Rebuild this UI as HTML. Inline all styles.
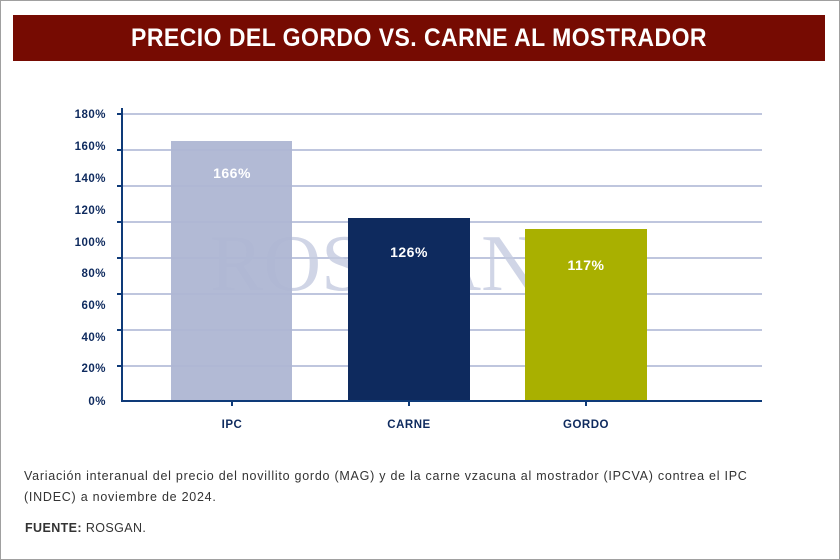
<!DOCTYPE html>
<html><head><meta charset="utf-8"><style>
body{margin:0;width:840px;height:560px;overflow:hidden;background:#fff;font-family:"Liberation Sans",sans-serif;}
.frame{position:absolute;left:0;top:0;width:838px;height:558px;border:1px solid #a0a0a0;}
.title{position:absolute;left:13px;top:15px;width:812px;height:46px;background:#760b02;color:#fff;text-align:center;line-height:46px;}
.title span{display:inline-block;font-size:25px;font-weight:bold;letter-spacing:0.5px;transform:scaleX(0.92);}
.cap{position:absolute;left:24px;top:466px;width:770px;font-size:12.5px;color:#333;line-height:21px;letter-spacing:0.75px;}
.src{position:absolute;left:25px;top:521px;font-size:12.5px;color:#333;letter-spacing:0.4px;}
</style></head><body>
<div class="frame"></div>
<div class="title"><span>PRECIO DEL GORDO VS. CARNE AL MOSTRADOR</span></div>
<svg width="840" height="560" style="position:absolute;left:0;top:0">
<g stroke="#aab3d3" stroke-width="1.5">
<line x1="122" x2="762" y1="114" y2="114"/><line x1="122" x2="762" y1="150" y2="150"/>
<line x1="122" x2="762" y1="186" y2="186"/><line x1="122" x2="762" y1="222" y2="222"/>
<line x1="122" x2="762" y1="258" y2="258"/><line x1="122" x2="762" y1="294" y2="294"/>
<line x1="122" x2="762" y1="330" y2="330"/><line x1="122" x2="762" y1="366" y2="366"/>
</g>
<text x="210" y="290" font-family="Liberation Serif,serif" font-size="80" fill="#c5cbe0" opacity="0.8">ROSGAN</text>
<rect x="171" y="141" width="121" height="260" fill="#aeb6d3" opacity="0.95"/>
<rect x="348" y="218" width="122" height="183" fill="#0e2a5e"/>
<rect x="525" y="229" width="122" height="172" fill="#a9b000"/>
<g stroke="#0e3a78" stroke-width="2">
<line x1="122" y1="108" x2="122" y2="402"/><line x1="121" y1="401" x2="762" y2="401"/>
<line x1="117" x2="122" y1="114" y2="114"/><line x1="117" x2="122" y1="150" y2="150"/><line x1="117" x2="122" y1="186" y2="186"/><line x1="117" x2="122" y1="222" y2="222"/><line x1="117" x2="122" y1="258" y2="258"/><line x1="117" x2="122" y1="294" y2="294"/><line x1="117" x2="122" y1="330" y2="330"/><line x1="117" x2="122" y1="366" y2="366"/>
<line x1="232" x2="232" y1="401" y2="406"/><line x1="409" x2="409" y1="401" y2="406"/><line x1="586" x2="586" y1="401" y2="406"/>
</g>
<g font-size="11.5" font-weight="bold" fill="#0e2a5e" text-anchor="end" letter-spacing="0.5">
<text x="106" y="118">180%</text>
<text x="106" y="150">160%</text>
<text x="106" y="182">140%</text>
<text x="106" y="214">120%</text>
<text x="106" y="246">100%</text>
<text x="106" y="277">80%</text>
<text x="106" y="309">60%</text>
<text x="106" y="341">40%</text>
<text x="106" y="372">20%</text>
<text x="106" y="405">0%</text>
</g>
<g font-size="11.5" font-weight="bold" fill="#0e2a5e" text-anchor="middle" letter-spacing="0.5">
<text x="232" y="428">IPC</text>
<text x="409" y="428">CARNE</text>
<text x="586" y="428">GORDO</text>
</g>
<g font-size="14" font-weight="bold" fill="#fff" text-anchor="middle" letter-spacing="0.5">
<text x="232" y="178">166%</text>
<text x="409" y="257">126%</text>
<text x="586" y="270">117%</text>
</g>
</svg>
<div class="cap">Variación interanual del precio del novillito gordo (MAG) y de la carne vzacuna al mostrador (IPCVA) contrea el IPC (INDEC) a noviembre de 2024.</div>
<div class="src"><b>FUENTE:</b> ROSGAN.</div>
</body></html>
